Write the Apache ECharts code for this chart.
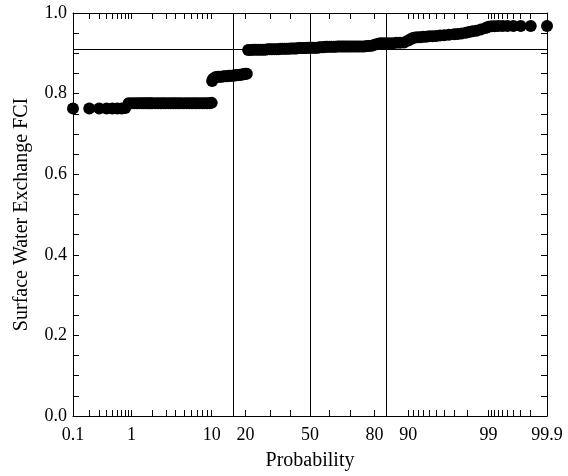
<!DOCTYPE html>
<html><head><meta charset="utf-8">
<script src="https://cdn.jsdelivr.net/npm/echarts@6/dist/echarts.min.js"></script>
<style>html,body{margin:0;padding:0;background:#fff}#c{width:568px;height:476px}</style>
</head><body><div id="c"></div>
<script>
// [probability %, FCI]
const groupLow = [[0.1,0.763],[0.2,0.763],[0.3,0.763],[0.4,0.763],[0.5,0.763],[0.6,0.763],[0.7,0.763],[0.8,0.764]];
const groupA = [[0.9,0.776],[1.0,0.776],[1.1,0.776],[1.2,0.776],[1.3,0.776],[1.4,0.776],[1.5,0.776],[1.6,0.776],[1.7,0.776],[1.8,0.776],[1.9,0.776],[2.0,0.776],[2.2,0.776],[2.4,0.776],[2.6,0.776],[2.8,0.776],[3.0,0.776],[3.25,0.776],[3.5,0.776],[3.75,0.776],[4.0,0.776],[4.3,0.776],[4.6,0.776],[5.0,0.776],[5.4,0.776],[5.8,0.776],[6.2,0.776],[6.6,0.776],[7.0,0.776],[7.5,0.776],[8.0,0.776],[8.5,0.776],[9.0,0.776],[9.5,0.776],[10.0,0.777]];
const groupB = [[10.1,0.831],[10.3,0.836],[10.6,0.839],[11,0.841],[11.5,0.842],[12,0.842],[12.5,0.842],[13,0.843],[13.5,0.843],[14,0.843],[14.5,0.844],[15,0.844],[15.5,0.844],[16,0.845],[16.5,0.845],[17,0.846],[17.5,0.846],[18,0.847],[18.5,0.847],[19,0.848],[19.5,0.848],[20,0.849],[20.5,0.849]];
const groupC = [[21,0.908],[22,0.908],[23,0.909],[24,0.909],[25,0.909],[26,0.909],[27,0.909],[28,0.909],[29,0.910],[30,0.910],[31,0.910],[32,0.910],[33,0.910],[34,0.910],[35,0.911],[36,0.911],[37,0.911],[38,0.911],[39,0.911],[40,0.912],[41,0.912],[42,0.912],[43,0.912],[44,0.913],[45,0.913],[46,0.913],[47,0.913],[48,0.913],[49,0.914],[50,0.914],[51,0.914],[52,0.914],[53,0.914],[54,0.914],[55,0.915],[56,0.915],[57,0.915],[58,0.916],[59,0.916],[60,0.916],[61,0.916],[62,0.916],[63,0.916],[64,0.917],[65,0.917],[66,0.917],[67,0.917],[68,0.917],[69,0.917],[70,0.917],[71,0.917],[72,0.917],[73,0.917],[74,0.917],[75,0.917],[76,0.917],[77,0.918],[78,0.918],[79,0.919],[80,0.921]];
const groupD = [[81,0.923],[82,0.925],[83,0.925],[84,0.925],[85,0.925],[86,0.925],[87,0.926],[88,0.926],[89,0.927],[90,0.932],[90.5,0.935],[91,0.938],[91.5,0.939],[92,0.940],[92.5,0.940],[93,0.941],[93.5,0.941],[94,0.942],[94.5,0.942],[95,0.943],[95.5,0.944],[96,0.945],[96.5,0.946],[97,0.947],[97.3,0.948],[97.6,0.949],[97.9,0.951],[98.1,0.953],[98.3,0.955],[98.5,0.956],[98.7,0.959],[98.9,0.963],[99.0,0.966]];
const groupHigh = [[99.1,0.967],[99.2,0.967],[99.3,0.968],[99.4,0.968],[99.5,0.968],[99.6,0.968],[99.7,0.968],[99.8,0.968],[99.9,0.968]];

const tickProbs = [0.1,0.2,0.3,0.4,0.5,0.6,0.7,0.8,0.9,1,2,3,4,5,6,7,8,9,10,20,30,40,50,60,70,80,90,91,92,93,94,95,96,97,98,99,99.1,99.2,99.3,99.4,99.5,99.6,99.7,99.8,99.9];
const labelProbs = [0.1,1,10,20,50,80,90,99,99.9];
const labelTexts = ['0.1','1','10','20','50','80','90','99','99.9'];
const probRange = [0.1, 99.9];
const refProbs = [15.87, 50, 84.13];
const refFCI = 0.9136;
const yRange = [0, 1];
const yStep = 0.2;

function probit(p){
  const a=[-3.969683028665376e+01,2.209460984245205e+02,-2.759285104469687e+02,1.383577518672690e+02,-3.066479806614716e+01,2.506628277459239e+00];
  const b=[-5.447609879822406e+01,1.615858368580409e+02,-1.556989798598866e+02,6.680131188771972e+01,-1.328068155288572e+01];
  const c=[-7.784894002430293e-03,-3.223964580411365e-01,-2.400758277161838e+00,-2.549732539343734e+00,4.374664141464968e+00,2.938163982698783e+00];
  const d=[7.784695709041462e-03,3.224671290700398e-01,2.445134137142996e+00,3.754408661907416e+00];
  const pl=0.02425, ph=1-pl;
  if(p<pl){const q=Math.sqrt(-2*Math.log(p));return (((((c[0]*q+c[1])*q+c[2])*q+c[3])*q+c[4])*q+c[5])/((((d[0]*q+d[1])*q+d[2])*q+d[3])*q+1);}
  if(p<=ph){const q=p-0.5,r=q*q;return (((((a[0]*r+a[1])*r+a[2])*r+a[3])*r+a[4])*r+a[5])*q/(((((b[0]*r+b[1])*r+b[2])*r+b[3])*r+b[4])*r+1);}
  const q=Math.sqrt(-2*Math.log(1-p));return -(((((c[0]*q+c[1])*q+c[2])*q+c[3])*q+c[4])*q+c[5])/((((d[0]*q+d[1])*q+d[2])*q+d[3])*q+1);
}
const z = pct => probit(pct/100);

const allPts = [].concat(groupLow, groupA, groupB, groupC, groupD, groupHigh);
const data = allPts.map(pv => [z(pv[0]), pv[1]]);
const tickZ = tickProbs.map(z);
const labelZ = labelProbs.map(z);
const zMin = z(probRange[0]), zMax = z(probRange[1]);

const FONT = "'Liberation Serif','Times New Roman',serif";
const black = '#000';
function xLabel(v){
  let best=0, bd=Infinity;
  labelZ.forEach((lz,i)=>{const d=Math.abs(lz-v); if(d<bd){bd=d;best=i;}});
  return labelTexts[best];
}
const axisLine = {show:true, onZero:false, lineStyle:{color:black, width:1}};
const xTick = {show:true, inside:true, length:6, customValues:tickZ, lineStyle:{color:black, width:1}};

const chart = echarts.init(document.getElementById('c'), null, {renderer:'canvas'});
chart.setOption({
  animation:false,
  backgroundColor:'#fff',
  grid:{left:73, right:21, top:13, bottom:58, containLabel:false},
  xAxis:[
    {type:'value', position:'bottom', min:zMin, max:zMax,
     axisLine:axisLine, axisTick:xTick, splitLine:{show:false},
     axisLabel:{customValues:labelZ, formatter:xLabel, color:black, fontFamily:FONT, fontSize:18, margin:10},
     name:'Probability', nameLocation:'middle', nameGap:35,
     nameTextStyle:{color:black, fontFamily:FONT, fontSize:20}},
    {type:'value', position:'top', min:zMin, max:zMax,
     axisLine:axisLine, axisTick:xTick, splitLine:{show:false}, axisLabel:{show:false}}
  ],
  yAxis:[
    {type:'value', position:'left', min:yRange[0], max:yRange[1], interval:yStep,
     axisLine:axisLine,
     axisTick:{show:true, inside:true, length:6, lineStyle:{color:black, width:1}},
     minorTick:{show:true, splitNumber:4, length:6, lineStyle:{color:black, width:1}},
     splitLine:{show:false}, minorSplitLine:{show:false},
     axisLabel:{formatter:v=>v.toFixed(1), color:black, fontFamily:FONT, fontSize:18, margin:6},
     name:'Surface Water Exchange FCI', nameLocation:'middle', nameGap:41,
     nameTextStyle:{color:black, fontFamily:FONT, fontSize:20}},
    {type:'value', position:'right', min:yRange[0], max:yRange[1], interval:yStep,
     axisLine:axisLine,
     axisTick:{show:true, inside:true, length:6, lineStyle:{color:black, width:1}},
     minorTick:{show:true, splitNumber:4, length:6, lineStyle:{color:black, width:1}},
     splitLine:{show:false}, axisLabel:{show:false}}
  ],
  series:[{
    type:'scatter', xAxisIndex:0, yAxisIndex:0, data:data, clip:false,
    symbol:'circle', symbolSize:12, itemStyle:{color:black, opacity:1},
    emphasis:{disabled:true},
    markLine:{silent:true, symbol:'none', animation:false, label:{show:false},
      lineStyle:{color:black, width:1, type:'solid'},
      emphasis:{disabled:true},
      data:[{yAxis:refFCI}].concat(refProbs.map(p=>({xAxis:z(p)})))}
  }]
});
</script></body></html>
